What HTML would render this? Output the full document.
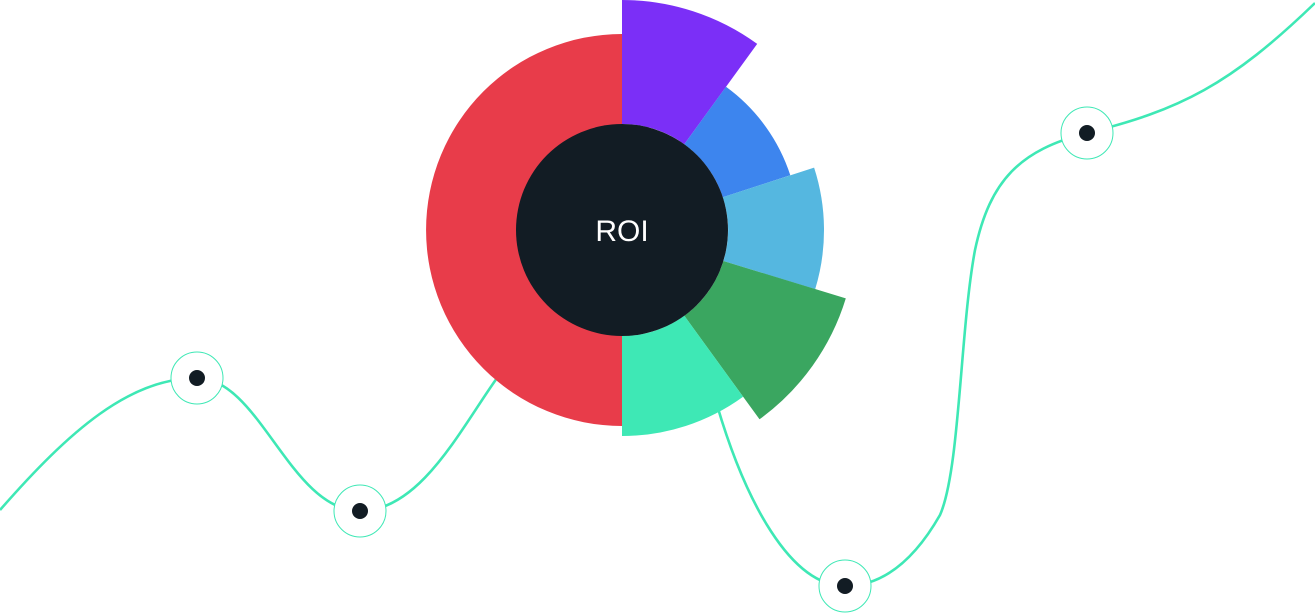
<!DOCTYPE html>
<html><head><meta charset="utf-8"><style>
html,body{margin:0;padding:0;background:#fff;width:1315px;height:613px;overflow:hidden}
svg{display:block}
</style></head><body>
<svg width="1315" height="613" viewBox="0 0 1315 613" xmlns="http://www.w3.org/2000/svg">
<g fill="none" stroke="#3ee8b5" stroke-width="2.6">
<path d="M0,510 C70,430 130,378 197,378 C260,378 290,511 360,511 C420,511 460,430 497,378"/>
<path d="M717,405 C745,500 790,586 845,586 C890,586 920,550 940,515 C960,470 960,330 975,250 C990,180 1020,150 1087,133 C1180,110 1230,85 1315,3"/>
</g>
<path d="M622,34 A196,196 0 0 0 622,426 Z" fill="#e83c4a"/>
<path d="M622,0 A230,230 0 0 1 757.2,43.9 L684.3,144.2 A106,106 0 0 0 622,124 Z" fill="#7b2ff7"/>
<path d="M726,86.8 A177,177 0 0 1 790.3,175.3 L722.8,197.2 A106,106 0 0 0 684.3,144.2 Z" fill="#3d85ee"/>
<path d="M814.1,167.6 A202,202 0 0 1 815.2,289.1 L723.4,261 A106,106 0 0 0 722.8,197.2 Z" fill="#55b7e0"/>
<path d="M845.8,298.4 A234,234 0 0 1 759.5,419.3 L684.3,315.8 A106,106 0 0 0 723.4,261 Z" fill="#3aa660"/>
<path d="M743.1,396.7 A206,206 0 0 1 622,436 L622,336 A106,106 0 0 0 684.3,315.8 Z" fill="#3ee8b5"/>
<circle cx="622" cy="230" r="106" fill="#121c24"/>
<text x="622" y="241" text-anchor="middle" font-family="Liberation Sans, sans-serif" font-size="30" fill="#fff">ROI</text>
<g>
<circle cx="197" cy="378" r="26" fill="#fff" stroke="#3ee8b5" stroke-width="1"/><circle cx="197" cy="378" r="8" fill="#121c24"/>
<circle cx="360" cy="511" r="26" fill="#fff" stroke="#3ee8b5" stroke-width="1"/><circle cx="360" cy="511" r="8" fill="#121c24"/>
<circle cx="845" cy="586" r="26" fill="#fff" stroke="#3ee8b5" stroke-width="1"/><circle cx="845" cy="586" r="8" fill="#121c24"/>
<circle cx="1087" cy="133" r="26" fill="#fff" stroke="#3ee8b5" stroke-width="1"/><circle cx="1087" cy="133" r="8" fill="#121c24"/>
</g>
</svg>
</body></html>
